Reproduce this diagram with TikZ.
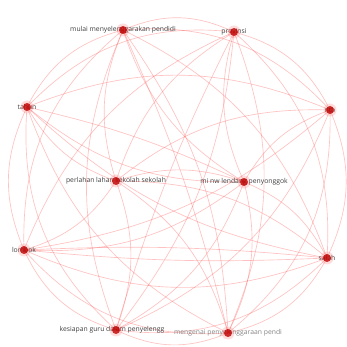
\documentclass[tikz,border=0pt]{standalone}
\usepackage{fontspec}
\setmainfont{Open Sans}
\begin{document}
\begin{tikzpicture}[x=1pt,y=1pt,
  edge/.style={draw=red!75!white, draw opacity=0.32, line width=0.65pt},
  dot/.style={circle, fill=red!75!black, fill opacity=0.8, inner sep=0pt, minimum size=8pt},
  halo/.style={circle, fill=red!60!white, fill opacity=0.22, inner sep=0pt, minimum size=13pt},
  lab/.style={font=\fontsize{6.8}{8}\selectfont, text=black!75, inner sep=0pt},
  lablight/.style={lab, text=black!48}]
\useasboundingbox (0,0) rectangle (346,347);
\fill[white] (0,0) rectangle (346,347);
% positions
\coordinate (pA) at (123,317); % mulai
\coordinate (pB) at (234,315); % provinsi
\coordinate (pC) at (330,237); % ntb
\coordinate (pD) at (327,89);  % salah
\coordinate (pE) at (228,14);  % mengenai
\coordinate (pF) at (116,17);  % kesiapan
\coordinate (pG) at (24,97);   % lombok
\coordinate (pH) at (27,240);  % tahun
\coordinate (pI) at (116,166); % perlahan
\coordinate (pJ) at (244,165); % mi nw
% edges (perimeter order A..H clockwise)
\foreach \a/\b/\c in {
  A/B/24,B/C/24,C/D/24,D/E/24,E/F/24,F/G/24,G/H/24,H/A/24,
  A/C/26,B/D/26,C/E/26,D/F/26,E/G/26,F/H/26,G/A/26,H/B/26,
  A/D/22,B/E/22,C/F/22,D/G/22,E/H/22,F/A/22,G/B/22,H/C/22,
  A/E/16,B/F/16,C/G/16,D/H/16,
  I/A/20,I/B/20,I/C/20,I/D/20,I/E/20,I/F/20,I/G/20,I/H/20,
  J/A/20,J/B/20,J/C/20,J/D/20,J/E/20,J/F/20,J/G/20,J/H/20,
  I/J/18}
  {\draw[edge] (p\a) to[bend left=\c] (p\b);}
% extra parallel edges
\draw[edge] (pG) to[bend left=4] (pD);
\draw[edge] (pG) to[bend right=4] (pD);
\draw[edge] (pH) to[bend left=6] (pJ);
\draw[edge] (pF) to[bend left=5] (pB);
\draw[edge] (pE) to[bend right=5] (pA);
% labels
\node[lablight] (lE) at (228,14) {mengenai penyelenggaraan pendi};
\node[lab] (lA) at (123,317) {mulai menyelenggarakan pendidi};
\node[lab] (lB) at (234,315) {provinsi};
\node[lab] (lC) at (330,237) {ntb};
\node[lab] (lD) at (327,89) {salah};
\node[lab] (lF) at (112,17) {kesiapan guru dalam penyelengg};
\node[lab] (lG) at (24,97) {lombok};
\node[lab] (lH) at (27,240) {tahun};
\node[lab] (lI) at (116,166) {perlahan lahan sekolah sekolah};
\node[lab] (lJ) at (244,165) {mi nw lendang penyonggok};
% nodes
\foreach \n in {A,B,C,D,E,F,G,H,I,J} {
  \node[halo] (h\n) at (p\n) {};
  \node[dot] (n\n) at (p\n) {};
}
\end{tikzpicture}
\end{document}
